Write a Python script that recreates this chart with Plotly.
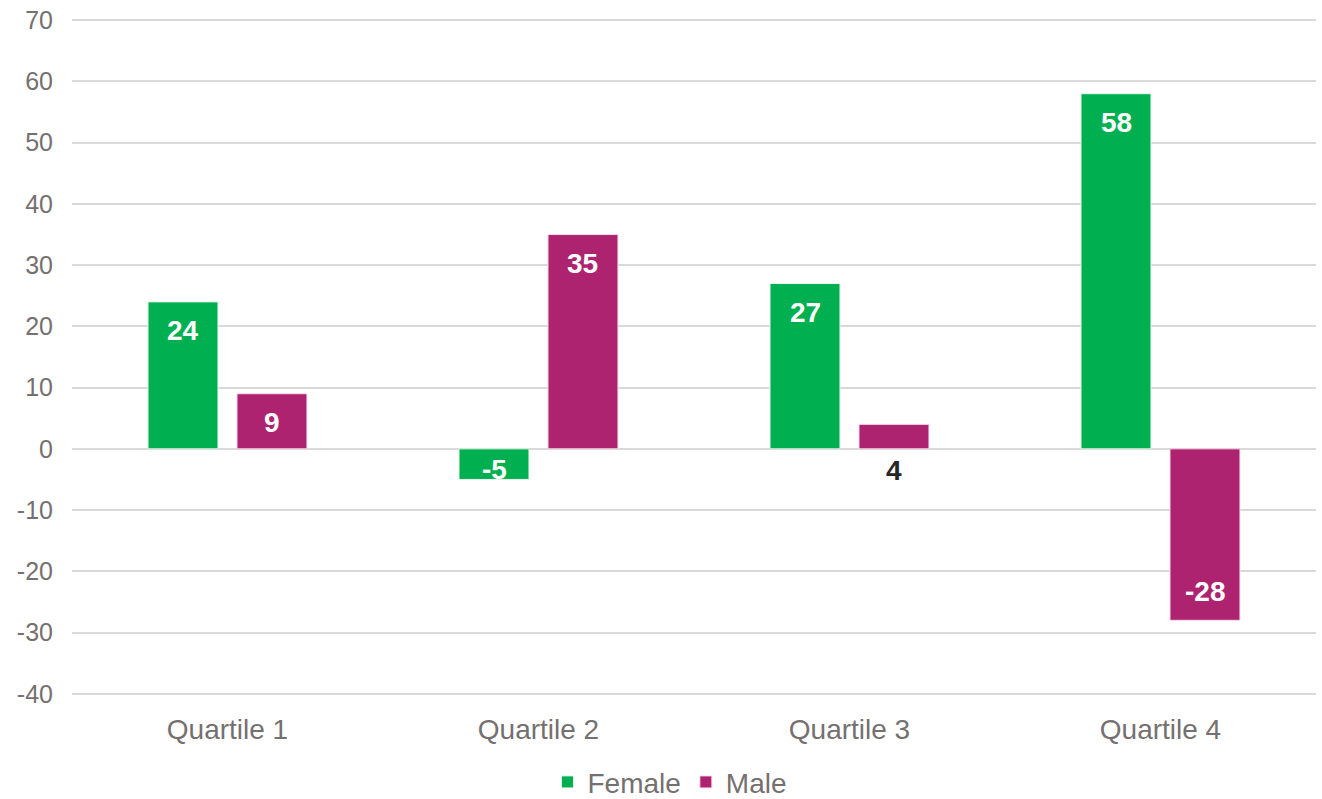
import plotly.graph_objects as go

categories = ["Quartile 1", "Quartile 2", "Quartile 3", "Quartile 4"]
female = [24, -5, 27, 58]
male = [9, 35, 4, -28]
y_ticks = [70, 60, 50, 40, 30, 20, 10, 0, -10, -20, -30, -40]

FEMALE_COLOR = "#00B050"
MALE_COLOR = "#AE2370"
TEXT_GREY = "#757070"
GRID = "#D9D9D9"
FONT = "Liberation Sans, Arial, sans-serif"

xpos = list(range(len(categories)))
bar_w = 0.225
off_f = -0.2556
off_m = 0.0305

fig = go.Figure()
fig.add_trace(go.Bar(
    x=xpos, y=female, name="Female", width=bar_w, offset=off_f,
    marker=dict(color=FEMALE_COLOR, line=dict(color="#E8F5EC", width=1)),
))
fig.add_trace(go.Bar(
    x=xpos, y=male, name="Male", width=bar_w, offset=off_m,
    marker=dict(color=MALE_COLOR, line=dict(color="#F3DDE9", width=1)),
))

annotations = []
for series, off in ((female, off_f), (male, off_m)):
    for i, v in enumerate(series):
        xc = xpos[i] + off + bar_w / 2
        if v >= 9:
            y, ys, col = v, -29, "white"
        elif v <= -9:
            y, ys, col = v, 29, "white"
        elif v < 0:
            y, ys, col = v, 10, "white"
        else:
            y, ys, col = 0, -22, "#262626"
        annotations.append(dict(
            x=xc, y=y, xref="x", yref="y", yshift=ys, text=str(v),
            showarrow=False, yanchor="middle", xanchor="center",
            font=dict(family=FONT, size=28, color=col, weight="bold"),
        ))

fig.update_layout(
    width=1322, height=799,
    margin=dict(l=72, r=6, t=19, b=104, autoexpand=False),
    paper_bgcolor="white", plot_bgcolor="white",
    barmode="group",
    font=dict(family=FONT, color=TEXT_GREY),
    annotations=annotations,
    showlegend=True,
    legend=dict(
        orientation="h", x=0.4807, xanchor="center",
        yref="container", y=0.021, yanchor="middle",
        font=dict(family=FONT, size=28, color=TEXT_GREY),
        itemwidth=30, traceorder="normal",
    ),
    xaxis=dict(
        range=[-0.5, 3.5], tickvals=xpos, ticktext=categories,
        showgrid=False, zeroline=False, showline=False, ticks="",
        tickfont=dict(family=FONT, size=28, color=TEXT_GREY),
        ticklabelstandoff=15, automargin=False,
    ),
    yaxis=dict(
        range=[-40.2, 70.2], tickvals=y_ticks, ticktext=[str(t) for t in y_ticks],
        showgrid=True, gridcolor=GRID, gridwidth=1.5,
        zeroline=True, zerolinecolor=GRID, zerolinewidth=1.5,
        showline=False, ticks="",
        tickfont=dict(family=FONT, size=25, color=TEXT_GREY),
        ticklabelstandoff=18, automargin=False, ticklabeloverflow="allow",
    ),
)

fig.write_html(
    "out.html",
    config={"displayModeBar": False},
    post_script="document.body.style.margin='0';document.body.style.overflow='hidden';",
)
